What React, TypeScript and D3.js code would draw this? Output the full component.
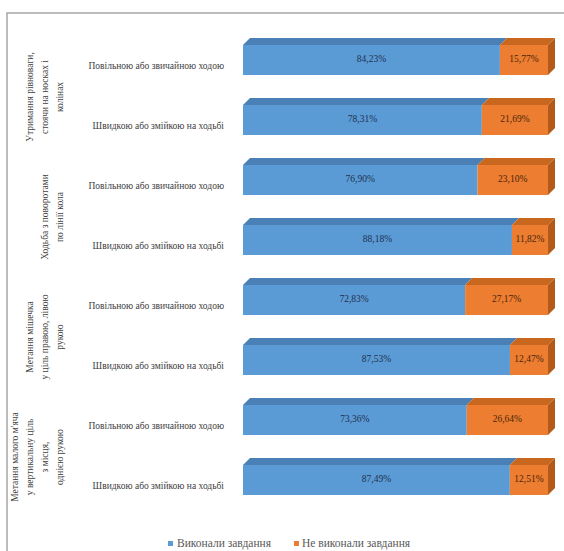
import React from "react";
import * as d3 from "d3";

const rowLabels = [
  "Повільною або звичайною ходою",
  "Швидкою або змійкою на ходьбі",
  "Повільною або звичайною ходою",
  "Швидкою або змійкою на ходьбі",
  "Повільною або звичайною ходою",
  "Швидкою або змійкою на ходьбі",
  "Повільною або звичайною ходою",
  "Швидкою або змійкою на ходьбі",
];
const doneValues = [84.23, 78.31, 76.9, 88.18, 72.83, 87.53, 73.36, 87.49];
const notDoneValues = [15.77, 21.69, 23.1, 11.82, 27.17, 12.47, 26.64, 12.51];
const groupLabels = [
  ["Утримання рівноваги,", "стоячи на носках і", "колінах"],
  ["Ходьба з поворотами", "по лінії кола"],
  ["Метання мішечка", "у ціль правою, лівою", "рукою"],
  ["Метання малого м'яча", "у вертикальну ціль", "з місця,", "однією рукою"],
];
const seriesNames = ["Виконали завдання", "Не виконали завдання"];

const W = 564;
const H = 551;
const BLUE = "#5b9bd5";
const BLUE_TOP = "#4a80b6";
const ORANGE = "#ed7d31";
const ORANGE_TOP = "#c9671f";
const ORANGE_SIDE = "#b35a1a";
const D = 7;

const fmt = (v: number) => v.toFixed(2).replace(".", ",") + "%";

export default function App() {
  const x = d3.scaleLinear().domain([0, 100]).range([243, 548]);
  const y = d3
    .scaleBand<number>()
    .domain(d3.range(rowLabels.length))
    .range([30, 510])
    .paddingInner(0.5)
    .paddingOuter(0.25);
  const bw = y.bandwidth();

  return (
    <svg
      width={W}
      height={H}
      style={{ position: "absolute", left: 0, top: 0, background: "#fff" }}
      fontFamily="'Liberation Serif', 'DejaVu Serif', serif"
    >
      <rect x={7} y={13} width={W} height={H} fill="#fff" stroke="#a6a6a6" strokeWidth={1.5} />
      {rowLabels.map((lab, i) => {
        const y0 = y(i)!;
        const y1 = y0 + bw;
        const xa = x(0);
        const xb = x(doneValues[i]);
        const xc = x(doneValues[i] + notDoneValues[i]);
        const cy = y0 + bw / 2;
        return (
          <g key={i}>
            <polygon
              points={`${xa},${y0} ${xa + D},${y0 - D} ${xb + D},${y0 - D} ${xb},${y0}`}
              fill={BLUE_TOP}
            />
            <polygon
              points={`${xb},${y0} ${xb + D},${y0 - D} ${xc + D},${y0 - D} ${xc},${y0}`}
              fill={ORANGE_TOP}
            />
            <polygon
              points={`${xc},${y0} ${xc + D},${y0 - D} ${xc + D},${y1 - D} ${xc},${y1}`}
              fill={ORANGE_SIDE}
            />
            <rect x={xa} y={y0} width={xb - xa} height={bw} fill={BLUE} />
            <rect x={xb} y={y0} width={xc - xb} height={bw} fill={ORANGE} />
            <text
              x={(xa + xb) / 2}
              y={cy}
              fontSize={9.5}
              fill="#1f3150"
              textAnchor="middle"
              dominantBaseline="middle"
            >
              {fmt(doneValues[i])}
            </text>
            <text
              x={(xb + xc) / 2}
              y={cy}
              fontSize={9.5}
              fill="#4a2608"
              textAnchor="middle"
              dominantBaseline="middle"
            >
              {fmt(notDoneValues[i])}
            </text>
            <text
              x={224}
              y={cy + 7}
              fontSize={9.5}
              fill="#404040"
              textAnchor="end"
              dominantBaseline="middle"
            >
              {lab}
            </text>
          </g>
        );
      })}
      {groupLabels.map((lines, g) => {
        const cy = (y(g * 2)! + y(g * 2 + 1)! + bw) / 2 + 7;
        const n = lines.length;
        return (
          <g key={g}>
            {lines.map((ln, k) => {
              const lx = 61 - (n - 1 - k) * 15;
              return (
                <text
                  key={k}
                  transform={`translate(${lx},${cy}) rotate(-90)`}
                  fontSize={9.5}
                  fill="#404040"
                  textAnchor="middle"
                  dominantBaseline="middle"
                >
                  {ln}
                </text>
              );
            })}
          </g>
        );
      })}
      <g fontSize={11.5} fill="#595959">
        <rect x={168} y={541} width={5} height={5} fill={BLUE} />
        <text x={177} y={544} dominantBaseline="middle">{seriesNames[0]}</text>
        <rect x={294} y={541} width={5} height={5} fill={ORANGE} />
        <text x={302} y={544} dominantBaseline="middle">{seriesNames[1]}</text>
      </g>
    </svg>
  );
}
